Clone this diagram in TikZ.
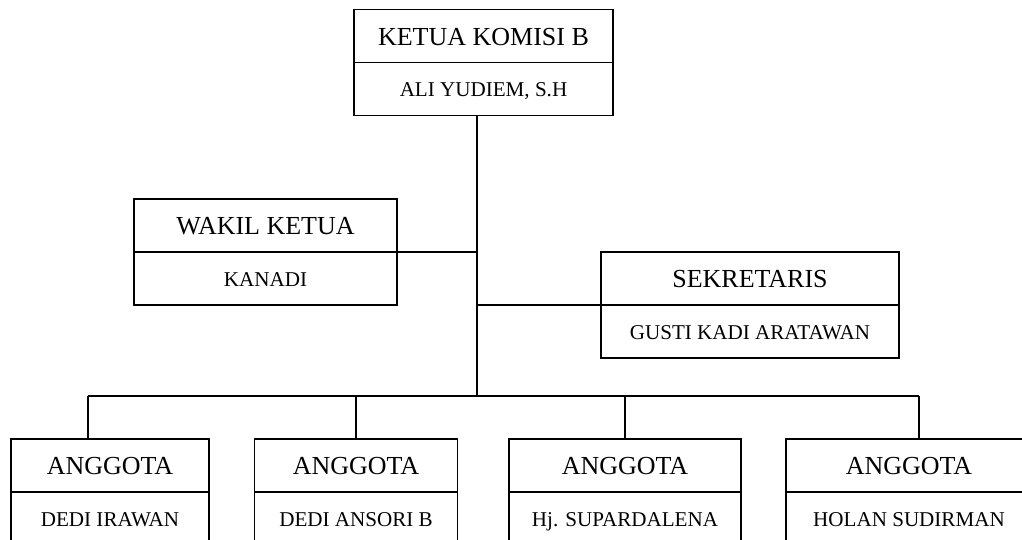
\documentclass[tikz,border=0pt]{standalone}
\usepackage{fontspec}
\setmainfont{Liberation Serif}
\usetikzlibrary{positioning}

\begin{document}
\begin{tikzpicture}[
  x=0.02cm, y=-0.02cm,
  titlebox/.style={draw, line width=1pt, outer sep=0pt, inner sep=0pt, minimum height=1.06cm, text height=10.6pt, text depth=0pt, font=\fontsize{14.8}{16}\selectfont},
  namebox/.style={draw, line width=1pt, outer sep=0pt, inner sep=0pt, minimum height=1.06cm, text height=8.6pt, text depth=0pt, font=\fontsize{12}{14}\selectfont},
  conn/.style={line width=1pt},
]
\useasboundingbox (0,0) rectangle (1022,540);
\clip (0,0) rectangle (1022,540);

% Ketua
\node[titlebox, minimum width=5.18cm] (ketua) at (483.5,36) {KETUA KOMISI B};
\node[namebox, minimum width=5.18cm, below=0pt of ketua] (ketuaN) {ALI YUDIEM, S.H};

% Wakil ketua and sekretaris
\node[titlebox, minimum width=5.26cm] (wakil) at (265.5,225.5) {WAKIL KETUA};
\node[namebox, minimum width=5.26cm, below=0pt of wakil] (wakilN) {KANADI};
\node[titlebox, minimum width=5.96cm] (sekr) at (750,278.5) {SEKRETARIS};
\node[namebox, minimum width=5.96cm, below=0pt of sekr] (sekrN) {GUSTI KADI ARATAWAN};

% Anggota
\foreach \xc/\w/\nm/\who in {110/3.96/a/DEDI IRAWAN, 356/4.06/b/DEDI ANSORI B,
    625/4.64/c/Hj. SUPARDALENA, 909/4.92/d/HOLAN SUDIRMAN} {
  \node[titlebox, minimum width=\w cm] (agt\nm) at (\xc,465.5) {ANGGOTA};
  \node[namebox, minimum width=\w cm, below=0pt of agt\nm] (agt\nm N) {\who};
}

% Connectors
\coordinate (hub) at (477,396);
\draw[conn] (ketuaN.south -| hub) -- (hub);
\draw[conn] (wakil.south east) -- (wakil.south east -| hub);
\draw[conn] (sekr.south west -| hub) -- (sekr.south west);
\coordinate (barL) at (88,396);
\coordinate (barR) at (919,396);
\draw[conn] (barL) -- (barR);
\draw[conn] (barL) -- (barL |- agta.north);
\draw[conn] (agtb.north |- hub) -- (agtb.north);
\draw[conn] (agtc.north |- hub) -- (agtc.north);
\draw[conn] (barR) -- (barR |- agtd.north);
\end{tikzpicture}
\end{document}
